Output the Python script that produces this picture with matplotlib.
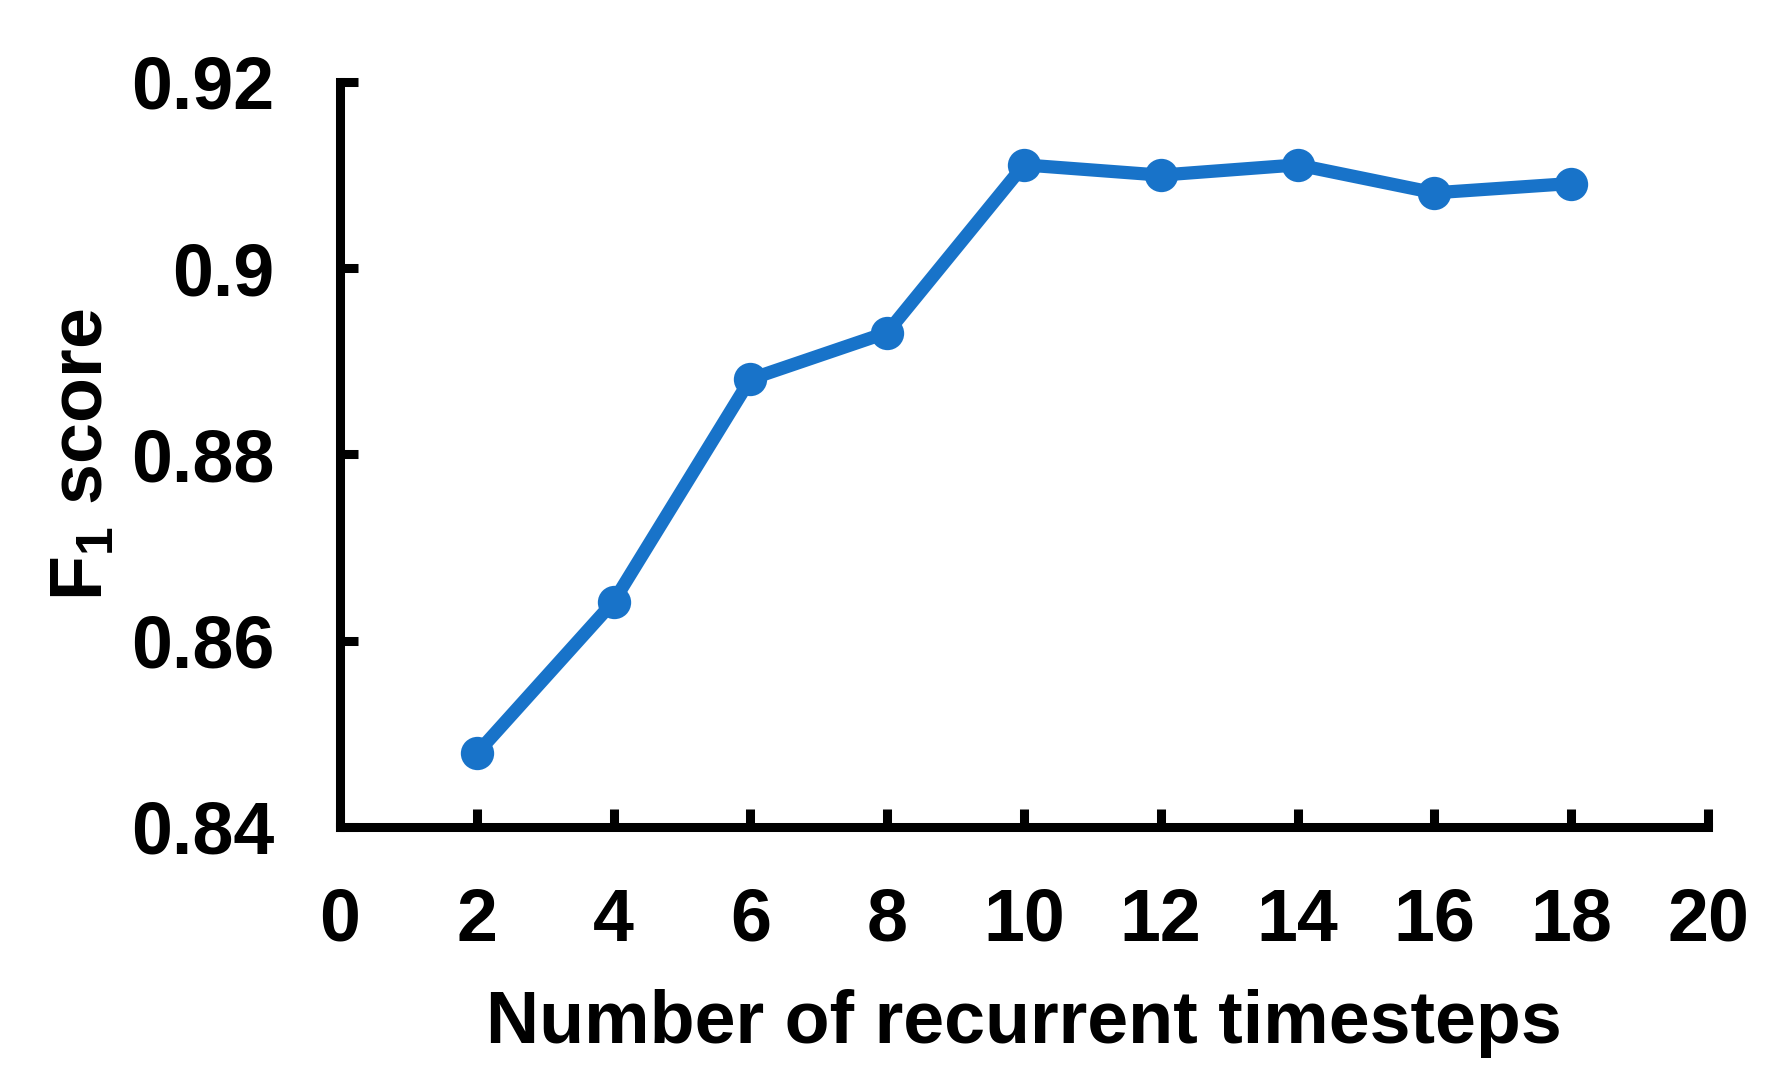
import matplotlib
matplotlib.use("Agg")
import matplotlib.pyplot as plt

timesteps = [2, 4, 6, 8, 10, 12, 14, 16, 18]
f1_scores = [0.8479, 0.8642, 0.8881, 0.8931, 0.9111, 0.9100, 0.9111, 0.9081, 0.9091]
x_ticks = [0, 2, 4, 6, 8, 10, 12, 14, 16, 18, 20]
y_ticks = [0.84, 0.86, 0.88, 0.90, 0.92]
y_tick_labels = ["0.84", "0.86", "0.88", "0.9", "0.92"]

plt.rcParams['font.family'] = ['Liberation Sans', 'DejaVu Sans']
plt.rcParams['font.weight'] = 'bold'
plt.rcParams['mathtext.fontset'] = 'custom'
plt.rcParams['mathtext.rm'] = 'Liberation Sans:bold'
plt.rcParams['mathtext.it'] = 'Liberation Sans:bold'
plt.rcParams['mathtext.bf'] = 'Liberation Sans:bold'

fig = plt.figure(figsize=(17.77, 10.9), dpi=100)
ax = fig.add_axes([340/1777, 1-827/1090, (1708-340)/1777, (827-82)/1090])

color = '#1873c9'
ax.plot(timesteps, f1_scores, color=color, lw=9.5, marker='o', markersize=24,
        markeredgewidth=0, solid_joinstyle='round', clip_on=False)

ax.set_xlim(0, 20)
ax.set_ylim(0.84, 0.92)
ax.set_xticks(x_ticks)
ax.set_yticks(y_ticks)
ax.set_yticklabels(y_tick_labels)

ax.spines['top'].set_visible(False)
ax.spines['right'].set_visible(False)
for s in ['left', 'bottom']:
    ax.spines[s].set_linewidth(6.5)

ax.tick_params(axis='both', direction='in', length=13, width=6.5, labelsize=53)
ax.tick_params(axis='x', pad=43)
ax.tick_params(axis='y', pad=47)
for lbl in ax.get_xticklabels() + ax.get_yticklabels():
    lbl.set_fontweight('bold')

ax.set_xlabel('Number of recurrent timesteps', fontsize=53, fontweight='bold', labelpad=24)
ax.set_ylabel('F$_1$ score', fontsize=53, fontweight='bold', labelpad=10)

fig.savefig('out.png', dpi=100)
